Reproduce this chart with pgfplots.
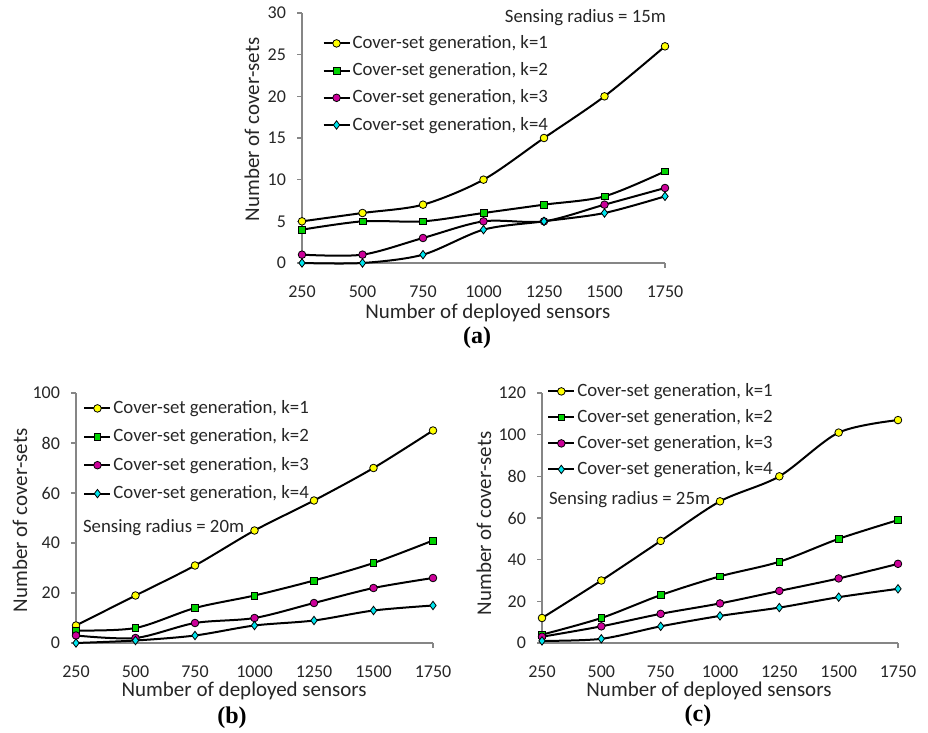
\documentclass[border=0pt]{standalone}
\usepackage{fontspec}
\setmainfont{Carlito}
\newfontfamily\capfont{Liberation Serif}
\usepackage{pgfplots}
\pgfplotsset{compat=1.18}

\definecolor{mkyellow}{RGB}{255,255,0}
\definecolor{mkgreen}{RGB}{0,210,0}
\definecolor{mkmagenta}{RGB}{204,0,153}
\definecolor{mkcyan}{RGB}{0,229,238}
\definecolor{axgray}{RGB}{134,134,134}
\definecolor{txt}{RGB}{38,38,38}

\pgfplotsset{
  panel/.style={
    scale only axis, height=125pt,
    clip=false,
    axis x line*=bottom, axis y line*=left,
    axis line style={axgray, line width=0.8pt, -},
    xmin=250, xmax=1750, ymin=0,
    xtick={250,500,...,1750},
    x tick style={draw=none},
    y tick style={axgray, line width=0.8pt},
    extra x ticks={1750}, extra x tick labels={},
    extra x tick style={x tick style={draw=axgray, line width=0.8pt}},
    tick align=outside, major tick length=2.5pt,
    scaled ticks=false,
    /pgf/number format/1000 sep={},
    /pgf/number format/assume math mode=true,
    tick label style={font=\fontsize{9}{10}\selectfont, text=txt},
    xticklabel style={inner sep=1pt, yshift=-7.5pt},
    yticklabel style={xshift=-2pt},
    label style={font=\fontsize{10.5}{12}\selectfont, text=txt, inner sep=1pt},
    xlabel={Number of deployed sensors},
    ylabel={Number of cover-sets},
    legend style={draw=none, fill=none, anchor=north west, inner sep=3pt,
      font=\fontsize{9.4}{11}\selectfont, text=txt,
      nodes={text height=7pt, text depth=2pt, inner ysep=1pt, inner xsep=1pt}},
    legend cell align=left,
    legend image code/.code={\draw[mark repeat=2,mark phase=2] plot coordinates {(0pt,0pt) (6.5pt,0pt) (13pt,0pt)};},
    every axis plot/.append style={black, line width=1pt, smooth},
  },
  k1/.style={mark=*, mark size=1.9pt, mark options={fill=mkyellow, draw=black, line width=0.4pt}},
  k2/.style={mark=square*, mark size=1.7pt, mark options={fill=mkgreen, draw=black, line width=0.4pt}},
  k3/.style={mark=*, mark size=1.9pt, mark options={fill=mkmagenta, draw=black, line width=0.4pt}},
  k4/.style={mark=diamond*, mark size=2.1pt, mark options={fill=mkcyan, draw=black, line width=0.4pt}},
}

\begin{document}
\begin{tikzpicture}
\useasboundingbox (0pt,0pt) rectangle (464pt,-366.5pt);

% (a) sensing radius 15m
\begin{axis}[panel, at={(151pt,-131.5pt)}, anchor=south west, width=181.5pt,
  ymax=30, ytick={0,5,...,30},
  xlabel style={at={(axis description cs:0.512,-0.2)}, anchor=center},
  ylabel style={at={(axis description cs:-0.138,0.534)}, anchor=center, rotate=0},
  legend style={at={(axis description cs:0.039,0.948)}, row sep=2.6pt},
]
\addplot[k1] coordinates {(250,5) (500,6) (750,7) (1000,10) (1250,15) (1500,20) (1750,26)};
\addlegendentry{Cover-set generation, k=1}
\addplot[k2] coordinates {(250,4) (500,5) (750,5) (1000,6) (1250,7) (1500,8) (1750,11)};
\addlegendentry{Cover-set generation, k=2}
\addplot[k3] coordinates {(250,1) (500,1) (750,3) (1000,5) (1250,5) (1500,7) (1750,9)};
\addlegendentry{Cover-set generation, k=3}
\addplot[k4] coordinates {(250,0) (500,0) (750,1) (1000,4) (1250,5) (1500,6) (1750,8)};
\addlegendentry{Cover-set generation, k=4}
\node[anchor=east, font=\fontsize{9.4}{11}\selectfont, text=txt] at (rel axis cs:1.022,0.98) {Sensing radius = 15m};
\end{axis}

% (b) sensing radius 20m
\begin{axis}[panel, at={(38pt,-321.5pt)}, anchor=south west, width=178.5pt,
  ymax=100, ytick={0,20,...,100},
  xlabel style={at={(axis description cs:0.471,-0.192)}, anchor=center},
  ylabel style={at={(axis description cs:-0.157,0.49)}, anchor=center, rotate=0},
  legend style={at={(axis description cs:0.003,1.008)}, row sep=3.2pt},
]
\addplot[k1] coordinates {(250,7) (500,19) (750,31) (1000,45) (1250,57) (1500,70) (1750,85)};
\addlegendentry{Cover-set generation, k=1}
\addplot[k2] coordinates {(250,5) (500,6) (750,14) (1000,19) (1250,25) (1500,32) (1750,41)};
\addlegendentry{Cover-set generation, k=2}
\addplot[k3] coordinates {(250,3) (500,2) (750,8) (1000,10) (1250,16) (1500,22) (1750,26)};
\addlegendentry{Cover-set generation, k=3}
\addplot[k4] coordinates {(250,0) (500,1) (750,3) (1000,7) (1250,9) (1500,13) (1750,15)};
\addlegendentry{Cover-set generation, k=4}
\node[anchor=west, font=\fontsize{9.4}{11}\selectfont, text=txt] at (rel axis cs:0.0,0.46) {Sensing radius = 20m};
\end{axis}

% (c) sensing radius 25m
\begin{axis}[panel, at={(271pt,-321.5pt)}, anchor=south west, width=178pt,
  ymax=120, ytick={0,20,...,120},
  xlabel style={at={(axis description cs:0.469,-0.192)}, anchor=center},
  ylabel style={at={(axis description cs:-0.163,0.478)}, anchor=center, rotate=0},
  legend style={at={(axis description cs:-0.003,1.076)}, row sep=2pt},
]
\addplot[k1] coordinates {(250,12) (500,30) (750,49) (1000,68) (1250,80) (1500,101) (1750,107)};
\addlegendentry{Cover-set generation, k=1}
\addplot[k2] coordinates {(250,4) (500,12) (750,23) (1000,32) (1250,39) (1500,50) (1750,59)};
\addlegendentry{Cover-set generation, k=2}
\addplot[k3] coordinates {(250,3) (500,8) (750,14) (1000,19) (1250,25) (1500,31) (1750,38)};
\addlegendentry{Cover-set generation, k=3}
\addplot[k4] coordinates {(250,1) (500,2) (750,8) (1000,13) (1250,17) (1500,22) (1750,26)};
\addlegendentry{Cover-set generation, k=4}
\node[anchor=west, font=\fontsize{9.4}{11}\selectfont, text=txt] at (rel axis cs:0.0,0.572) {Sensing radius = 25m};
\end{axis}

\node[font=\capfont\bfseries\fontsize{12}{14}\selectfont] at (238.5pt,-169pt) {(a)};
\node[font=\capfont\bfseries\fontsize{12}{14}\selectfont] at (116pt,-359pt) {(b)};
\node[font=\capfont\bfseries\fontsize{12}{14}\selectfont] at (349pt,-358pt) {(c)};
\end{tikzpicture}
\end{document}
